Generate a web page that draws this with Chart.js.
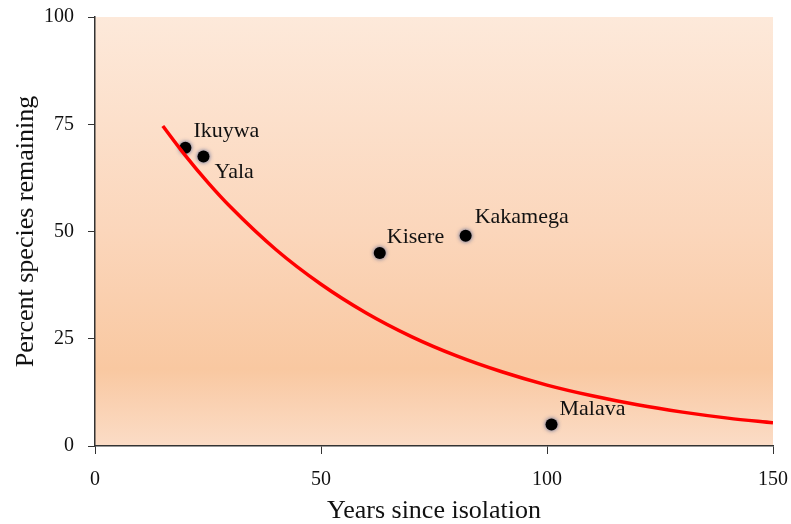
<!DOCTYPE html>
<html>
<head>
<meta charset="utf-8">
<script src="https://cdn.jsdelivr.net/npm/chart.js@4.4.1/dist/chart.umd.min.js"></script>
<style>
  html, body { margin: 0; padding: 0; background: #fff; }
  #wrap { width: 791px; height: 524px; }
</style>
</head>
<body>
<div id="wrap"><canvas id="chart" width="791" height="524"></canvas></div>
<script>
// forest fragments: years since isolation vs percent species remaining
const sites = ["Ikuywa", "Yala", "Kisere", "Kakamega", "Malava"];
const siteYears = [20, 24, 63, 82, 101];
const sitePercent = [69.5, 67.5, 45, 49, 5];

// decay curve read along its length
const curveYears = [15, 20, 25, 30, 40, 50, 60, 70, 80, 90, 100, 110, 120, 130, 140, 150];
const curvePercent = [74.6, 67.7, 61.4, 55.7, 45.8, 37.7, 31.0, 25.5, 21.0, 17.3, 14.2, 11.7, 9.6, 7.9, 6.5, 5.4];

const xTicks = [0, 50, 100, 150];
const yTicks = [0, 25, 50, 75, 100];

const serif = "'Liberation Serif', 'DejaVu Serif', serif";

const bgPlugin = {
  id: "bg",
  beforeDraw(chart) {
    const { ctx, chartArea: a } = chart;
    const g = ctx.createLinearGradient(0, a.top, 0, a.bottom);
    g.addColorStop(0, "#fde9da");
    g.addColorStop(0.5, "#fbd6bb");
    g.addColorStop(0.82, "#f9c8a1");
    g.addColorStop(1, "#fbdcc6");
    ctx.save();
    ctx.fillStyle = g;
    ctx.fillRect(a.left, a.top, a.right - a.left, a.bottom - a.top);
    ctx.restore();
  }
};

// site names next to the dots
const nameOffsets = {
  Ikuywa: [8, -17], Yala: [11, 16], Kisere: [7, -16], Kakamega: [9, -19], Malava: [8, -15]
};
const namePlugin = {
  id: "names",
  afterDatasetsDraw(chart) {
    const { ctx } = chart;
    const meta = chart.getDatasetMeta(1);
    ctx.save();
    ctx.font = "22px " + serif;
    ctx.fillStyle = "#111";
    ctx.textBaseline = "middle";
    meta.data.forEach((pt, i) => {
      const off = nameOffsets[sites[i]];
      ctx.fillText(sites[i], pt.x + off[0], pt.y + off[1]);
    });
    ctx.restore();
  }
};

const dotShadow = {
  id: "dotShadow",
  beforeDatasetDraw(chart, args) {
    if (args.index !== 1) return;
    const ctx = chart.ctx;
    ctx.save();
    ctx.shadowColor = "rgba(30,60,130,0.8)";
    ctx.shadowBlur = 4;
  },
  afterDatasetDraw(chart, args) {
    if (args.index === 1) chart.ctx.restore();
  }
};

new Chart(document.getElementById("chart"), {
  type: "scatter",
  data: {
    datasets: [
      {
        data: curveYears.map((x, i) => ({ x, y: curvePercent[i] })),
        showLine: true,
        borderColor: "#ff0000",
        borderWidth: 3.5,
        pointRadius: 0,
        tension: 0.4,
        cubicInterpolationMode: "monotone"
      },
      {
        data: siteYears.map((x, i) => ({ x, y: sitePercent[i] })),
        backgroundColor: "#000",
        borderColor: "#000",
        pointRadius: 6,
        pointBorderWidth: 0
      }
    ]
  },
  options: {
    responsive: false,
    animation: false,
    layout: { padding: { top: 17, right: 18, left: 0, bottom: 0 } },
    plugins: { legend: { display: false }, tooltip: { enabled: false } },
    scales: {
      x: {
        type: "linear",
        min: 0, max: 150,
        afterBuildTicks: (s) => { s.ticks = xTicks.map(v => ({ value: v })); },
        afterFit: (s) => { s.height = 78; s.paddingLeft = 0; s.paddingRight = 0; },
        grid: { drawOnChartArea: false, tickLength: 8, color: "#333", lineWidth: 1 },
        border: { color: "#333", width: 1.5 },
        ticks: { font: { family: serif, size: 20 }, color: "#111", padding: 14 },
        title: { display: true, text: "Years since isolation", font: { family: serif, size: 26, lineHeight: 1 }, color: "#111", padding: { top: 0, bottom: 0 } }
      },
      y: {
        min: 0, max: 100,
        afterBuildTicks: (s) => { s.ticks = yTicks.map(v => ({ value: v })); },
        afterFit: (s) => { s.width = 95; s.paddingTop = 0; s.paddingBottom = 0; },
        grid: { drawOnChartArea: false, tickLength: 7, color: "#333", lineWidth: 1 },
        border: { color: "#333", width: 1.5 },
        ticks: { font: { family: serif, size: 20 }, color: "#111", padding: 14 },
        title: { display: true, text: "Percent species remaining", font: { family: serif, size: 26, lineHeight: 1.2 }, color: "#111", padding: { top: 11, bottom: 0 } }
      }
    }
  },
  plugins: [bgPlugin, dotShadow, namePlugin]
});
</script>
</body>
</html>
